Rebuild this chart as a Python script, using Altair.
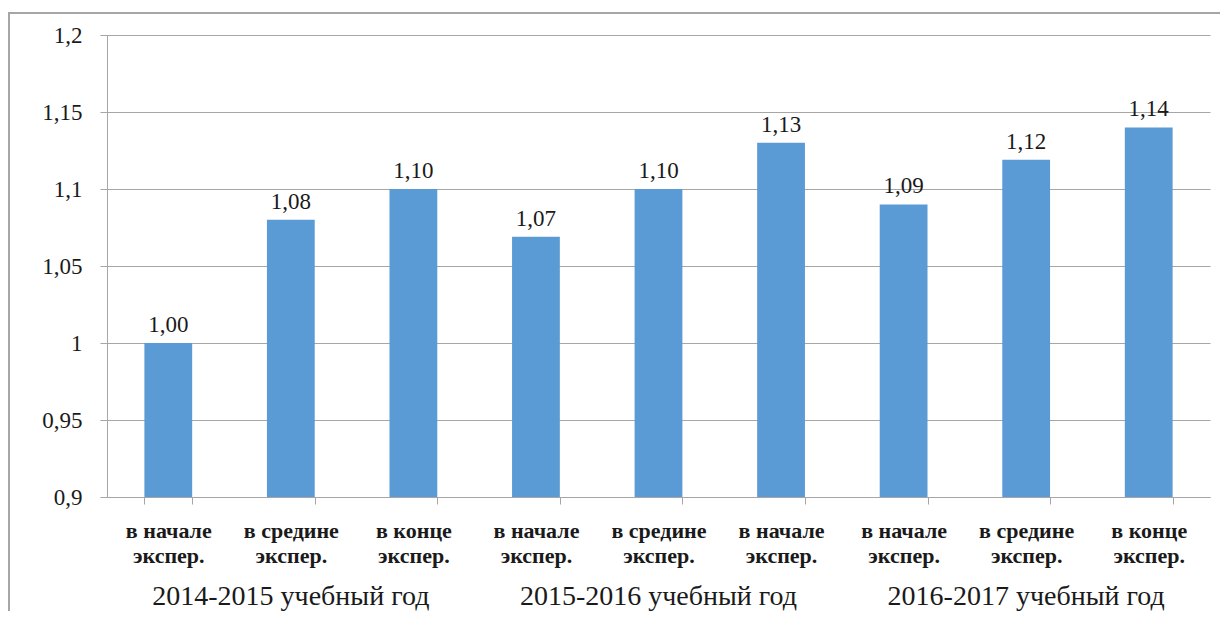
import altair as alt
import pandas as pd

years = ["2014-2015 учебный год", "2015-2016 учебный год", "2016-2017 учебный год"]
line1 = ["в начале", "в средине", "в конце",
         "в начале", "в средине", "в начале",
         "в начале", "в средине", "в конце"]
line2 = ["экспер."] * 9
values = [1.00, 1.08, 1.10, 1.069, 1.10, 1.13, 1.09, 1.119, 1.14]
value_labels = ["1,00", "1,08", "1,10", "1,07", "1,10", "1,13", "1,09", "1,12", "1,14"]
y_ticks = [0.9, 0.95, 1.0, 1.05, 1.1, 1.15, 1.2]

keys = [f"{i}|{a}|{b}" for i, (a, b) in enumerate(zip(line1, line2))]
df = pd.DataFrame({"key": keys, "value": values, "label": value_labels})
gdf = pd.DataFrame({"key": [keys[1], keys[4], keys[7]], "year": years})

FONT = "'Liberation Serif', 'Times New Roman', serif"
GRAY = "#a6a6a6"
TXT = "#1a1a1a"
W, H = 1103, 462

xscale = alt.Scale(domain=keys, paddingInner=0.61, paddingOuter=0.305)

x_enc = alt.X(
    "key:N", sort=keys, scale=xscale,
    axis=alt.Axis(
        title=None, labelAngle=0,
        labelExpr="[split(datum.value,'|')[1], split(datum.value,'|')[2]]",
        tickBand="extent", tickSize=7, tickColor=GRAY, domainColor=GRAY,
        labelFont=FONT, labelFontSize=22, labelFontWeight="bold",
        labelColor=TXT, labelPadding=16, labelLineHeight=25,
        grid=False,
    ),
)

y_enc = alt.Y(
    "value:Q",
    scale=alt.Scale(domain=[0.9, 1.2], nice=False, zero=False, clamp=True),
    axis=alt.Axis(
        title=None, values=y_ticks, format=".2~f",
        labelExpr="replace(datum.label, '.', ',')",
        grid=True, gridColor=GRAY, domainColor=GRAY, tickColor=GRAY,
        tickSize=7, labelPadding=18, labelFont=FONT, labelFontSize=23,
        labelColor=TXT,
    ),
)

bars = alt.Chart(df).mark_bar(color="#5B9BD5").encode(x=x_enc, y=y_enc)

texts = alt.Chart(df).mark_text(
    font=FONT, fontSize=23, baseline="bottom", dy=-6, color=TXT
).encode(x=alt.X("key:N", sort=keys, scale=xscale), y=alt.Y("value:Q"), text="label:N")

groups = alt.Chart(gdf).mark_text(
    font=FONT, fontSize=28, baseline="middle", color=TXT
).encode(x=alt.X("key:N", sort=keys, scale=xscale), y=alt.value(562), text="year:N")

frame = alt.Chart(gdf).mark_rect(
    filled=False, stroke=GRAY, strokeWidth=2
).encode(
    x=alt.value(-98), x2=alt.value(W + 50),
    y=alt.value(-22), y2=alt.value(H + 200),
)

chart = alt.layer(frame, bars, texts, groups).properties(
    width=W, height=H,
    autosize=alt.AutoSizeParams(type="none"),
    padding={"left": 99, "top": 27, "right": 10, "bottom": 114},
).configure(font=FONT).configure_axis(labelFont=FONT).configure_view(stroke=None)

chart.save("out.html", embed_options={"renderer": "svg", "actions": False})
